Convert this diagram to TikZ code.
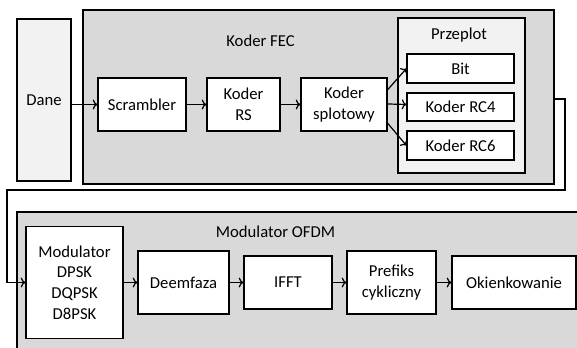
\documentclass[tikz,border=0pt]{standalone}
\usepackage{fontspec}
\setmainfont{Carlito}
\usetikzlibrary{arrows.meta}
\definecolor{ciemny}{HTML}{D9D9D9}
\definecolor{jasny}{HTML}{F2F2F2}
\tikzset{
  blok/.style={draw, fill=white, line width=0.9pt, align=center, inner sep=0pt},
  wym/.style 2 args={minimum width=#1*0.75pt, minimum height=#2*0.75pt},
  grupa/.style={draw, fill=ciemny, line width=0.9pt, inner sep=0pt},
  strz/.style={-{To[length=3.5pt,width=7.5pt]}, line width=0.9pt},
}
\begin{document}
\begin{tikzpicture}[x=0.75pt, y=-0.75pt, font=\fontsize{12.5pt}{15.5pt}\selectfont]
  \useasboundingbox (0,0) rectangle (577,347);
  % grupy
  \node (fec) [grupa, wym={471}{174}] at (318.5,97) {};
  \node (fectxt) at (260.5,41) {Koder FEC};
  \node (ofdm) [grupa, wym={583}{158}] at (308.5,291) {};
  \node (ofdmtxt) at (275.5,232) {Modulator OFDM};
  \node (dane) [blok, fill=jasny, wym={54}{162}] at (44,100) {Dane};
  \node (przeplot) [grupa, fill=jasny, wym={127}{155}] at (461.5,95.5) {};
  \node (przeplottxt) at (459,35) {Przeplot};
  % koder
  \node (scr) [blok, wym={88}{53}] at (142,104.5) {Scrambler};
  \node (rs) [blok, wym={73}{53}] at (243.5,104.5) {Koder\\RS};
  \node (splot) [blok, wym={86}{53}] at (344,104.5) {Koder\\splotowy};
  \node (bit) [blok, wym={107}{29}] at (460.5,68.5) {Bit};
  \node (rc4) [blok, wym={107}{28}] at (460.5,107) {Koder RC4};
  \node (rc6) [blok, wym={107}{29}] at (460.5,145.5) {Koder RC6};
  % modulator
  \node (mod) [blok, wym={97}{112}] at (74.5,282.5) {Modulator\\DPSK\\DQPSK\\D8PSK};
  \node (deem) [blok, wym={91}{63}] at (183.5,282.5) {Deemfaza};
  \node (ifft) [blok, wym={88}{53}] at (288,282.5) {IFFT};
  \node (pref) [blok, wym={89}{63}] at (391.5,282.5) {Prefiks\\cykliczny};
  \node (okno) [blok, wym={124}{53}] at (514,282.5) {Okienkowanie};
  % polaczenia
  \draw[strz] (dane.east |- scr) -- (scr);
  \draw[strz] (scr) -- (rs);
  \draw[strz] (rs) -- (splot);
  \draw[strz] ([yshift=11pt]splot.east) -- (bit.west);
  \draw[strz] ([yshift=0.4pt]splot.east) -- (rc4.west |- splot.east);
  \draw[strz] ([yshift=-14pt]splot.east) -- (rc6.west);
  \coordinate (p1) at (565,99);
  \coordinate (p2) at (565,190);
  \coordinate (p3) at (7,190);
  \draw[strz] (fec.east |- p1) -- (p1) -- (p2) -- (p3) |- (mod.west);
  \draw[strz] (mod) -- (deem);
  \draw[strz] (deem) -- (ifft);
  \draw[strz] (ifft) -- (pref);
  \draw[strz] (pref) -- (okno);
\end{tikzpicture}
\end{document}
